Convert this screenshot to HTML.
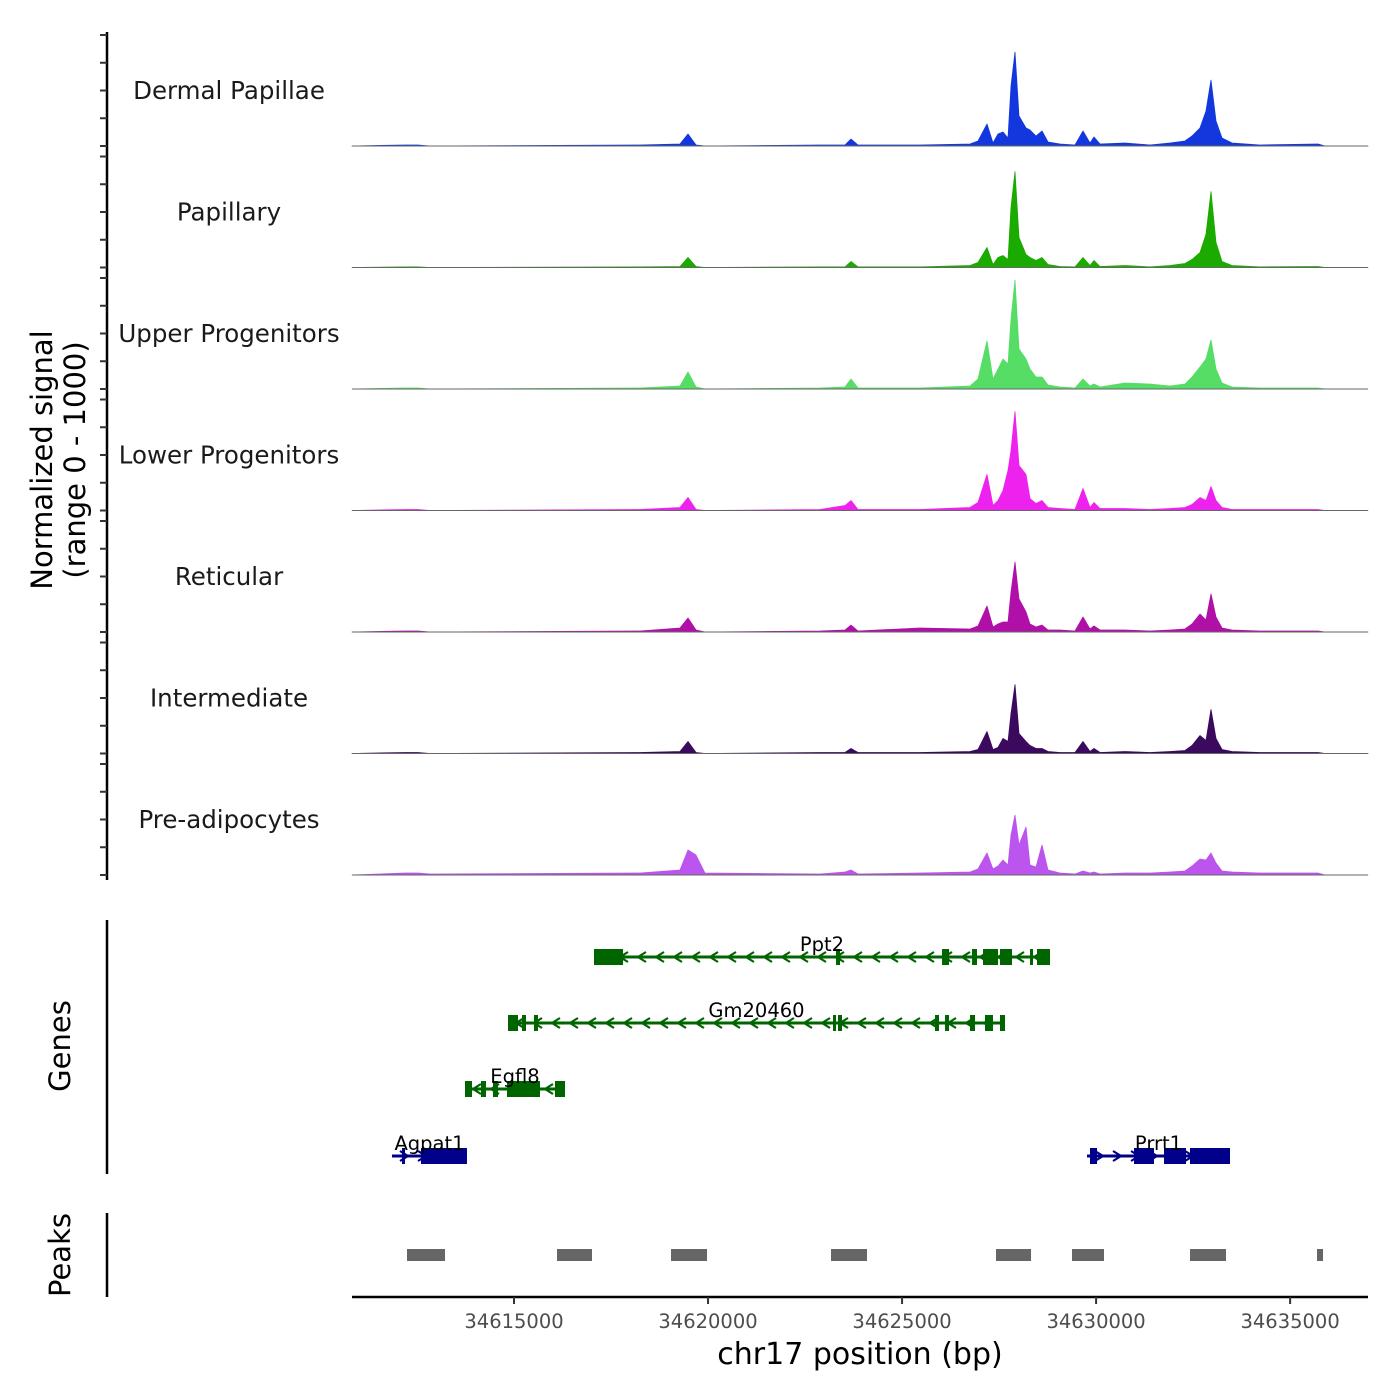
<!DOCTYPE html>
<html><head><meta charset="utf-8"><style>
html,body{margin:0;padding:0;background:#fff}
svg{display:block;font-family:"DejaVu Sans","Liberation Sans",sans-serif}
</style></head><body>
<svg id="chart" width="1400" height="1400" viewBox="0 0 1400 1400" xmlns="http://www.w3.org/2000/svg">
<text transform="translate(52,460) rotate(-90)" text-anchor="middle" font-size="29" fill="#000">Normalized signal</text>
<text transform="translate(85,460) rotate(-90)" text-anchor="middle" font-size="29" fill="#000">(range 0 - 1000)</text>
<text transform="translate(70,1046) rotate(-90)" text-anchor="middle" font-size="29" fill="#000">Genes</text>
<text transform="translate(70,1255) rotate(-90)" text-anchor="middle" font-size="29" fill="#000">Peaks</text>
<text x="860" y="1364" text-anchor="middle" font-size="30" fill="#000">chr17 position (bp)</text>
</svg>
<script>
const trackNames=["Dermal Papillae","Papillary","Upper Progenitors","Lower Progenitors","Reticular","Intermediate","Pre-adipocytes"];
const trackColors=["#1238dd","#1aaa00","#55dd66","#ee22ee","#b010a8","#3b0a5e","#bb55ee"];
const positions=[34610825,34612191,34612526,34612835,34618247,34619278,34619484,34619690,34619922,34622885,34623530,34623685,34623865,34625462,34626751,34626957,34627189,34627343,34627472,34627601,34627730,34627807,34627910,34628013,34628194,34628297,34628452,34628606,34628761,34629070,34629457,34629663,34629843,34629946,34630101,34630745,34631389,34631905,34632291,34632472,34632678,34632832,34632961,34633090,34633245,34633503,34634224,34635719,34635899,34637007];
const sigDP=[0,9,9,0,9,18,108,9,0,9,9,63,9,9,18,45,198,27,108,126,72,540,846,270,162,144,90,135,36,18,9,135,27,81,18,27,9,27,45,90,162,315,594,225,72,27,9,18,0,0];
const sigPap=[0,5,5,0,5,9,90,9,0,5,5,54,5,5,18,45,180,27,90,108,72,540,864,270,117,90,63,90,27,9,5,90,18,63,9,18,5,18,36,72,135,300,684,225,54,18,5,9,0,0];
const sigUpper=[0,9,9,0,9,27,153,18,0,9,18,90,9,9,27,90,432,90,180,270,225,630,981,360,270,180,108,108,36,18,9,90,27,45,18,54,45,27,45,108,198,270,441,180,54,18,9,9,0,0];
const sigLower=[0,9,9,0,9,27,117,9,0,9,45,90,9,9,27,72,324,45,90,180,360,540,891,405,324,108,63,90,27,18,9,198,27,72,18,18,9,18,27,54,117,90,216,90,27,9,9,9,0,0];
const sigRet=[0,9,9,0,9,36,126,18,0,9,18,63,9,36,27,54,234,45,72,90,90,360,630,297,180,72,45,63,18,18,9,135,27,54,18,18,9,18,27,72,162,108,342,135,36,18,9,9,0,0];
const sigInt=[0,9,9,0,9,18,108,9,0,9,9,45,9,9,18,36,198,36,54,135,108,360,621,180,108,72,45,45,18,9,9,108,18,45,9,18,9,18,27,72,162,117,396,135,36,18,9,9,0,0];
const sigPre=[0,18,18,9,18,45,225,180,18,9,27,45,9,18,27,54,198,54,81,135,90,360,540,270,432,90,72,270,45,18,9,36,18,27,9,18,18,27,36,81,144,135,198,108,36,27,18,18,0,0];
const signals=[sigDP,sigPap,sigUpper,sigLower,sigRet,sigInt,sigPre];
const xTicks=[34615000,34620000,34625000,34630000,34635000];
const genes=[
 {name:"Ppt2",strand:-1,color:"#006400",row:0,start:34617061,end:34628812,exons:[[34617061,34617809],[34623298,34623401],[34626030,34626210],[34626803,34626931],[34627086,34627473],[34627524,34627833],[34628297,34628374],[34628477,34628812]]},
 {name:"Gm20460",strand:-1,color:"#006400",row:1,start:34614845,end:34627653,exons:[[34614845,34615103],[34615206,34615309],[34615515,34615618],[34623221,34623298],[34623349,34623452],[34625849,34625952],[34626107,34626210],[34626751,34626880],[34627137,34627343],[34627524,34627653]]},
 {name:"Egfl8",strand:-1,color:"#006400",row:2,start:34613737,end:34616314,exons:[[34613737,34613917],[34614149,34614278],[34614458,34614587],[34614819,34615670],[34616056,34616314]]},
 {name:"Agpat1",strand:1,color:"#00008b",row:3,start:34611856,end:34613788,exons:[[34612114,34612191],[34612603,34613788]]},
 {name:"Prrt1",strand:1,color:"#00008b",row:3,start:34629766,end:34633451,exons:[[34629843,34630024],[34630977,34631492],[34631750,34632317],[34632420,34633451]]}
];
const peakStarts=[34612242,34616108,34619046,34623169,34627421,34629379,34632420,34635693];
const peakEnds=[34613222,34617010,34619974,34624097,34628323,34630204,34633348,34635848];

const NS="http://www.w3.org/2000/svg";
const svg=document.getElementById('chart');
const X0=352,X1=1368,BP0=34610825,BP1=34637007;
const xs=bp=>X0+(bp-BP0)/(BP1-BP0)*(X1-X0);
const PH=121.5, B0=146, SC=111/1000;
function mk(t,a,p){const e=document.createElementNS(NS,t);for(const k in a)e.setAttribute(k,a[k]);(p||svg).appendChild(e);return e;}
const ax=mk('line',{x1:107,y1:32,x2:107,y2:880,stroke:'#000','stroke-width':2.5});


for(let t=0;t<7;t++){
 const base=B0+t*PH;
 for(let k=0;k<5;k++){
  const y=base-k*250*SC;
  const tk=mk('line',{x1:100,y1:y,x2:107,y2:y,stroke:'#333','stroke-width':2});
  
  
 }
}
trackNames.forEach((nm,t)=>{
 const base=B0+t*PH;
 const g=mk('g',{});
 
 
 let d='M'+xs(positions[0])+','+base;
 positions.forEach((p,i)=>{d+=' L'+xs(p).toFixed(1)+','+(base-signals[t][i]*SC).toFixed(1);});
 d+=' L'+xs(positions[positions.length-1])+','+base+' Z';
 const a=mk('path',{d:d,fill:trackColors[t],stroke:trackColors[t],'stroke-width':0.8,'stroke-linejoin':'round'},g);
 
 
 const bl=mk('line',{x1:X0,y1:base,x2:X1,y2:base,stroke:'#666','stroke-width':1},g);
 
 
 const lb=mk('text',{x:229,y:base-47,'text-anchor':'middle','font-size':24.5,fill:'#1a1a1a'},g);
 lb.textContent=nm;
 
 
});
const ga=mk('line',{x1:107,y1:920,x2:107,y2:1174,stroke:'#000','stroke-width':2.5});


const rowY=[957,1023,1089,1156];
genes.forEach(gn=>{
 const y=rowY[gn.row];
 const g=mk('g',{});
 
 
 const x1=xs(gn.start),x2=xs(gn.end);
 mk('line',{x1:x1,y1:y,x2:x2,y2:y,stroke:gn.color,'stroke-width':3},g);
 for(let x=x1+12;x<x2-6;x+=18){
  const s=gn.strand;
  mk('polyline',{points:(x-4*s)+','+(y-5)+' '+(x+4*s)+','+y+' '+(x-4*s)+','+(y+5),fill:'none',stroke:gn.color,'stroke-width':2.2},g);
 }
 gn.exons.forEach(e=>{
  const ex=mk('rect',{x:xs(e[0]),y:y-8,width:Math.max(3,xs(e[1])-xs(e[0])),height:16,fill:gn.color},g);
  
  
 });
 const lb=mk('text',{x:(x1+x2)/2,y:y-6,'text-anchor':'middle','font-size':19.5,fill:'#000'},g);
 lb.textContent=gn.name;
 
 
});
const pa=mk('line',{x1:107,y1:1213,x2:107,y2:1297,stroke:'#000','stroke-width':2.5});


peakStarts.forEach((s,i)=>{
 const r=mk('rect',{x:xs(s),y:1249,width:Math.max(4,xs(peakEnds[i])-xs(s)),height:12,fill:'#666'});
 
 
});
const xa=mk('line',{x1:X0,y1:1297,x2:X1,y2:1297,stroke:'#000','stroke-width':2.5});


xTicks.forEach(v=>{
 const x=xs(v);
 const tk=mk('line',{x1:x,y1:1297,x2:x,y2:1304,stroke:'#333','stroke-width':2});
 
 
 const tl=mk('text',{x:x,y:1328,'text-anchor':'middle','font-size':19.5,fill:'#4d4d4d'});
 tl.textContent=v;
 
 
});
</script>
</body></html>
